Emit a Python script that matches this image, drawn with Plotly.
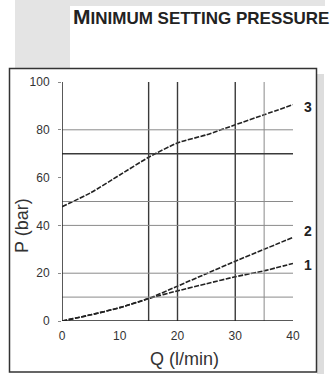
import plotly.graph_objects as go

# ---- data ----
q = [0, 5, 10, 15, 20, 25, 30, 35, 40]
p_curve3 = [47.8, 53.7, 61.1, 68.5, 74.5, 77.9, 82.1, 86.3, 90.5]
p_curve2 = [0, 2.6, 5.6, 9.4, 14.6, 19.8, 25.0, 30.0, 35.0]
p_curve1 = [0, 2.6, 5.6, 9.4, 12.6, 15.6, 18.5, 21.0, 24.1]
curve_names = ["3", "2", "1"]
label_pos = [(42.6, 89.4), (42.6, 37.6), (42.6, 23.6)]

x_ticks = [0, 10, 20, 30, 40]
y_ticks = [0, 20, 40, 60, 80, 100]
grid_x_thick = [15, 20, 30]
grid_x_thin = [35]
grid_y_thin = [10, 20, 40, 50, 80]
grid_y_thick = [70]
x_title = "Q (l/min)"
y_title = "P (bar)"
chart_title = "<b><span style='font-size:21px'>M</span>INIMUM SETTING PRESSURE</b>"

W, H = 332, 374
ML, MR, MT, MB = 62, 39, 82, 53
PW, PH = W - ML - MR, H - MT - MB
X0, X1, Y0, Y1 = 0, 40, 0, 100


def px(x):
    return (x - ML) / PW


def py(y):
    return (H - MB - y) / PH


def dx(v):
    return (v - X0) / (X1 - X0)


def dy(v):
    return (v - Y0) / (Y1 - Y0)


fig = go.Figure()
for name, ys in zip(curve_names, [p_curve3, p_curve2, p_curve1]):
    fig.add_trace(go.Scatter(x=q, y=ys, mode="lines", name=name,
                             line=dict(color="#222222", width=1.6, dash="5px,1.5px",
                                       shape="spline", smoothing=0.6),
                             hoverinfo="skip", showlegend=False))

shapes = []
# decorative grey header band and column
shapes.append(dict(type="rect", xref="paper", yref="paper", x0=px(15), x1=px(325),
                   y0=py(6), y1=py(0), fillcolor="#e4e4e4", line_width=0, layer="below"))
shapes.append(dict(type="rect", xref="paper", yref="paper", x0=px(15), x1=px(70),
                   y0=py(68), y1=py(0), fillcolor="#e4e4e4", line_width=0, layer="below"))
shapes.append(dict(type="rect", xref="paper", yref="paper", x0=px(317), x1=px(324),
                   y0=py(374), y1=py(74), fillcolor="#dddddd", line_width=0, layer="below"))
# frame
shapes.append(dict(type="rect", xref="paper", yref="paper", x0=px(9.5), x1=px(316.5),
                   y0=py(372), y1=py(68.5), line=dict(color="#333333", width=1.5),
                   fillcolor="white", layer="below"))

for gx in grid_x_thin:
    shapes.append(dict(type="line", xref="x", yref="y", x0=gx, x1=gx, y0=0, y1=100,
                       line=dict(color="#8a8a8a", width=1)))
for gx in grid_x_thick:
    shapes.append(dict(type="line", xref="x", yref="y", x0=gx, x1=gx, y0=0, y1=100,
                       line=dict(color="#3a3a3a", width=1.4)))
for gy in grid_y_thin:
    shapes.append(dict(type="line", xref="x", yref="y", x0=-0.5, x1=40, y0=gy, y1=gy,
                       line=dict(color="#8a8a8a", width=1)))
for gy in grid_y_thick:
    shapes.append(dict(type="line", xref="x", yref="y", x0=0, x1=40, y0=gy, y1=gy,
                       line=dict(color="#3a3a3a", width=1.4)))
# axes
shapes.append(dict(type="line", xref="x", yref="y", x0=0, x1=0, y0=0, y1=100,
                   line=dict(color="#222222", width=1.5)))
shapes.append(dict(type="line", xref="x", yref="y", x0=0, x1=40, y0=0, y1=0,
                   line=dict(color="#222222", width=1.6)))

FONT = "Liberation Sans, Arial"
annotations = [
    dict(xref="paper", yref="paper", x=px(72), y=py(29), xanchor="left", yanchor="bottom",
         text=chart_title, showarrow=False, borderpad=0,
         font=dict(family=FONT, size=17, color="#222222")),
    dict(xref="paper", yref="paper", x=px(184), y=py(359), xanchor="center", yanchor="middle",
         text=x_title, showarrow=False, font=dict(family=FONT, size=18, color="#333333")),
    dict(xref="paper", yref="paper", x=px(22), y=py(226), xanchor="center", yanchor="middle",
         text=y_title, textangle=-90, showarrow=False,
         font=dict(family=FONT, size=18, color="#333333")),
]
for name, (ax, ay) in zip(curve_names, label_pos):
    annotations.append(dict(xref="paper", yref="paper", x=dx(ax), y=dy(ay),
                            xanchor="center", yanchor="middle",
                            text="<b>" + name + "</b>",
                            showarrow=False, font=dict(family=FONT, size=14, color="#222222")))

fig.update_layout(
    width=W, height=H,
    margin=dict(l=ML, r=MR, t=MT, b=MB),
    paper_bgcolor="white", plot_bgcolor="rgba(0,0,0,0)",
    shapes=shapes, annotations=annotations,
    font=dict(family=FONT, color="#333333"),
    xaxis=dict(range=[X0, X1], tickvals=x_ticks, ticktext=[str(v) for v in x_ticks],
               showgrid=False, zeroline=False, showline=False, ticks="",
               ticklabelstandoff=6, tickfont=dict(size=12, color="#333333"),
               fixedrange=True),
    yaxis=dict(range=[Y0, Y1], tickvals=y_ticks, ticktext=[str(v) for v in y_ticks],
               showgrid=False, zeroline=False, showline=False, ticks="outside",
               ticklen=3, tickcolor="#8a8a8a", ticklabelstandoff=6,
               tickfont=dict(size=12, color="#333333"),
               fixedrange=True),
)

fig.write_html("out.html", config={"displayModeBar": False},
               post_script="document.body.style.margin='0px';document.body.style.overflow='hidden';")
